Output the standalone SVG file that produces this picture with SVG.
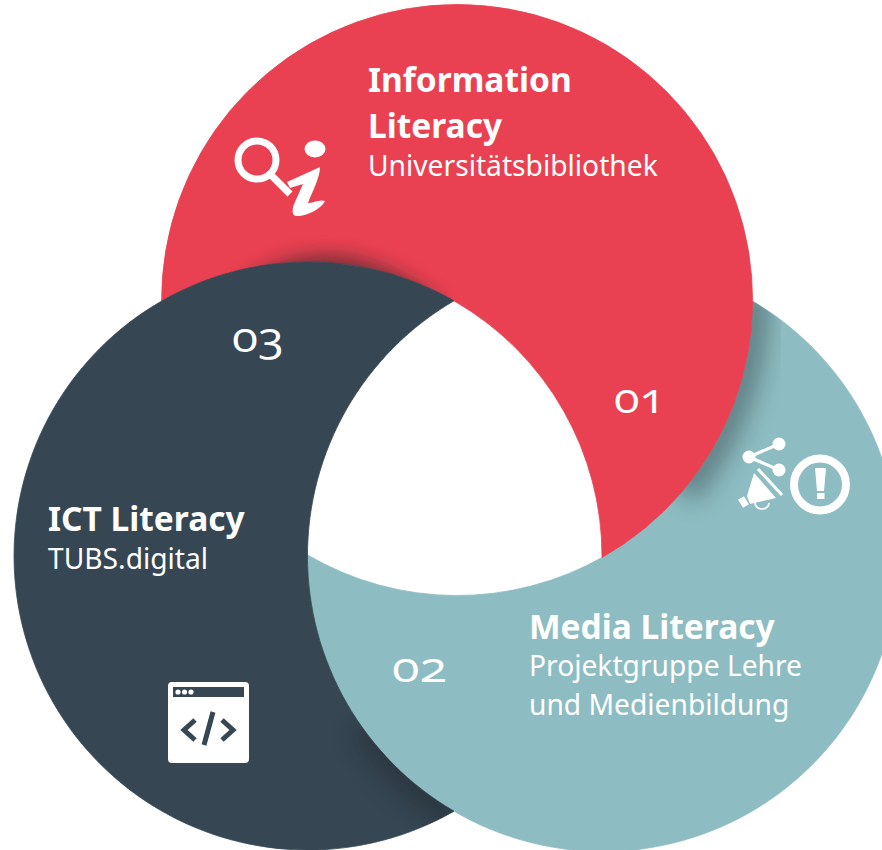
<svg xmlns="http://www.w3.org/2000/svg" width="882" height="850" viewBox="0 0 882 850">
<style>
text{font-family:"Noto Sans","Open Sans","Liberation Sans",sans-serif;fill:#fff}
.h{font-weight:700;font-size:33.5px}
.s{font-size:28.2px}
.n{font-family:"Open Sans","Noto Sans",sans-serif;font-size:42px;font-variant-numeric:oldstyle-nums}
.w{fill:#fff}
.sh{fill:none;stroke:#1c2226}
</style>
<defs>
<path id="pt" d="M752.5 301.1A295.5 295.5 0 1 1 307.5 554.9A295.5 295.5 0 0 0 752.5 301.1Z"/>
<path id="pr" d="M161.6 301.1A295.5 295.5 0 1 1 602 557.5A294 294 0 0 0 161.6 301.1Z"/>
<path id="pd" d="M454 300.8A294 294 0 1 0 454 811.2A295.5 295.5 0 0 1 454 300.8Z"/>
<clipPath id="ct"><use href="#pt"/></clipPath>
<clipPath id="cr"><use href="#pr"/></clipPath>
<clipPath id="cd"><use href="#pd"/></clipPath>
<filter id="b" x="-40%" y="-40%" width="180%" height="180%"><feGaussianBlur stdDeviation="12"/></filter>
<filter id="b2" x="-40%" y="-40%" width="180%" height="180%"><feGaussianBlur stdDeviation="9"/></filter>
</defs>
<rect width="882" height="850" fill="#fff"/>
<g id="media">
<use href="#pt" fill="#8dbdc2" stroke="#8dbdc2" stroke-width=".8"/>
<g clip-path="url(#ct)"><path class="sh" d="M752 290A295.5 295.5 0 0 1 682 492" stroke-width="34" opacity=".38" filter="url(#b)"/></g>
</g>
<g id="information">
<use href="#pr" fill="#e94151" stroke="#e94151" stroke-width=".8"/>
<g clip-path="url(#cr)"><path d="M215 305Q320 205 445 305Z" fill="#1c2226" opacity=".55" filter="url(#b2)"/></g>
</g>
<g id="ict">
<use href="#pd" fill="#364753" stroke="#364753" stroke-width=".8"/>
<g clip-path="url(#cd)"><path class="sh" d="M365 725A295.5 295.5 0 0 0 458 815" stroke-width="34" opacity=".4" filter="url(#b)"/></g>
</g>
<g id="label-information">
<text class="h" x="368" y="92">Information</text>
<text class="h" x="368" y="138">Literacy</text>
<text class="s" x="368" y="176">Universitätsbibliothek</text>
<text class="n" x="614" y="413" textLength="51" lengthAdjust="spacingAndGlyphs">01</text>
<g id="icon-info" class="w">
<circle cx="257" cy="160" r="19" fill="none" stroke="#fff" stroke-width="7"/>
<path d="M272 176L290 194" stroke="#fff" stroke-width="7" fill="none"/>
<ellipse cx="315" cy="149" rx="10.5" ry="8.5"/>
<path d="M287 182L320 167C320 178 312 192 308 203C313 203 320 199 325 201C322 208 308 216 297 216C291 216 292 208 295 202L303 184L290 188Z"/>
</g>
</g>
<g id="label-media">
<text class="h" x="529" y="639">Media Literacy</text>
<text class="s" x="529" y="676">Projektgruppe Lehre</text>
<text class="s" x="529" y="715">und Medienbildung</text>
<text class="n" x="392" y="682" textLength="55" lengthAdjust="spacingAndGlyphs">02</text>
<g id="icon-media" class="w">
<circle cx="749" cy="457" r="6.5"/><circle cx="779" cy="444" r="6.5"/><circle cx="779" cy="470" r="6.5"/>
<path d="M749 457L779 444M749 457L779 470" stroke="#fff" stroke-width="3"/>
<path d="M754 473L776 498L750 504L747 496Z"/>
<path d="M758 469L782 495" stroke="#fff" stroke-width="3"/>
<path d="M741 498L746 506" stroke="#fff" stroke-width="7"/>
<path d="M755 503A7 6 0 0 0 769 503" fill="none" stroke="#fff" stroke-width="1.7"/>
<circle cx="820" cy="484.5" r="26" fill="none" stroke="#fff" stroke-width="8"/>
<path d="M815 468H826L824 491H817Z"/><rect x="817" y="493" width="7.5" height="6"/>
</g>
</g>
<g id="label-ict">
<text class="h" x="48" y="531">ICT Literacy</text>
<text class="s" x="48" y="569">TUBS.digital</text>
<text class="n" x="232" y="352" textLength="52" lengthAdjust="spacingAndGlyphs">03</text>
<g id="icon-ict">
<rect x="168" y="682" width="81" height="81" rx="4" fill="#fff"/>
<rect x="173" y="687" width="71" height="10" fill="#364753"/>
<g class="w"><circle cx="178" cy="692" r="2.6"/><circle cx="184.500" cy="692" r="2.6"/><circle cx="191" cy="692" r="2.6"/></g>
<path d="M195 720L184 730L195 740M222 720L233 730L222 740M213 712L204 745" fill="none" stroke="#364753" stroke-width="5"/>
</g>
</g>
</svg>
